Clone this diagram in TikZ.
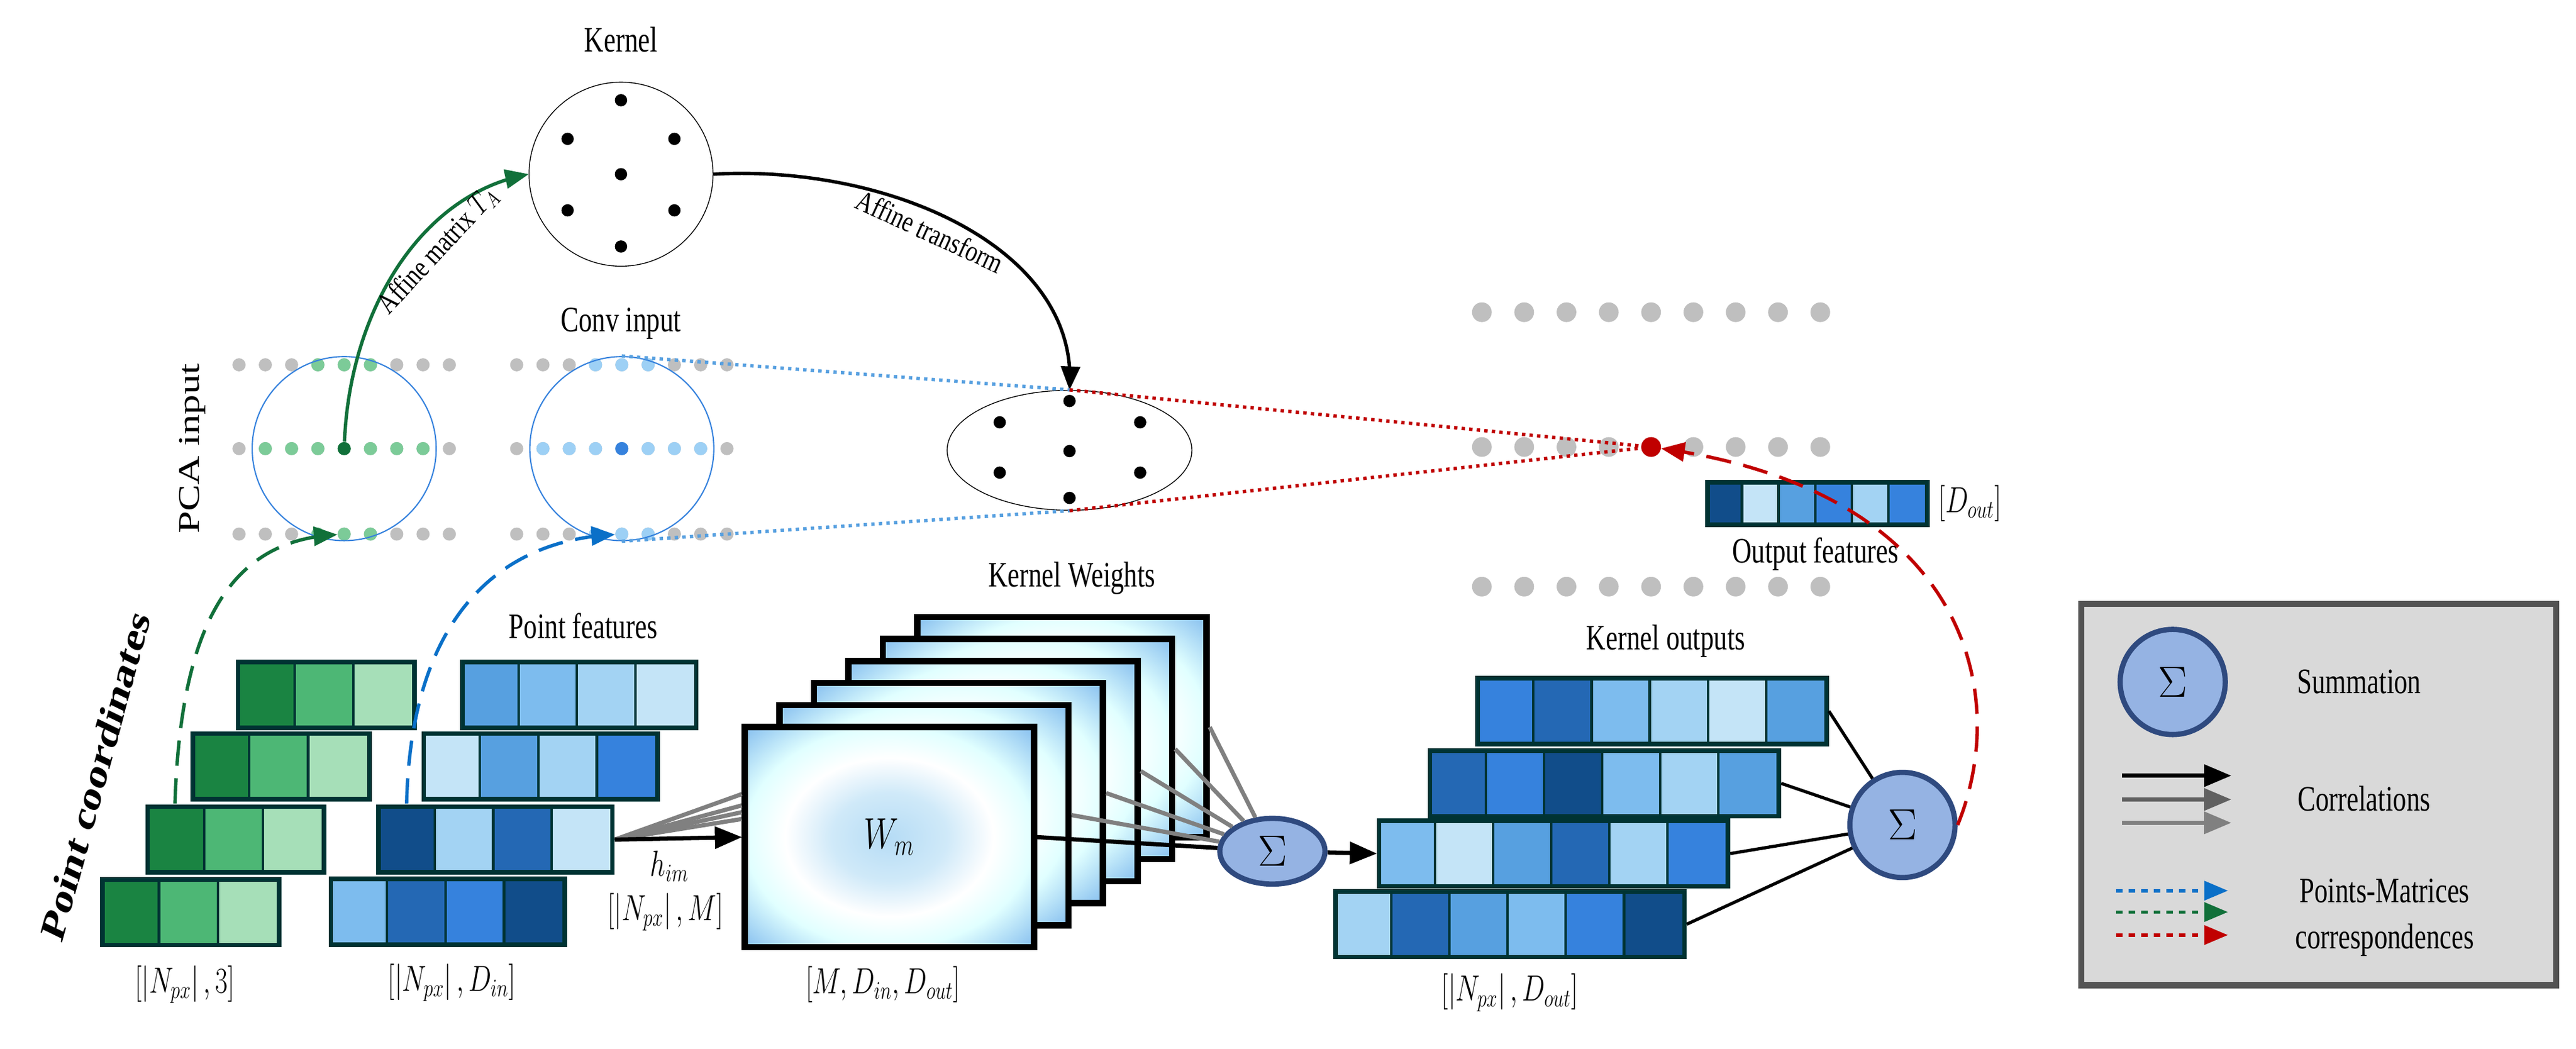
\documentclass[tikz,border=0pt]{standalone}
\usepackage{amsmath}
\usepackage{fontspec}
\setmainfont{Liberation Serif}
\usepackage{tikz}
\usetikzlibrary{shapes,arrows,backgrounds,positioning,calc}
\newlength\ux \setlength\ux{0.02743cm}
\definecolor{bardark}{HTML}{003333}
\definecolor{g1}{HTML}{1A8442}\definecolor{g2}{HTML}{4DB775}\definecolor{g3}{HTML}{A6DFB8}
\definecolor{b1}{HTML}{114D8A}\definecolor{b2}{HTML}{2468B4}\definecolor{b3}{HTML}{3682DD}
\definecolor{b4}{HTML}{57A0E0}\definecolor{b5}{HTML}{7DBCEE}\definecolor{b6}{HTML}{A3D3F3}
\definecolor{b7}{HTML}{C4E4F7}
\definecolor{pgreen}{HTML}{7CCB98}\definecolor{dgreen}{HTML}{11703A}
\definecolor{pblue}{HTML}{9DD0F5}\definecolor{dblue}{HTML}{0A70C8}
\definecolor{sumfill}{HTML}{95B3E3}\definecolor{sumline}{HTML}{2F4A7F}
\definecolor{dred}{HTML}{C00000}
\pgfdeclareradialshading{kwshade}{\pgfpoint{0bp}{0bp}}{color(0bp)=(b6!80!white);
  color(10bp)=(b7!80!white); color(18bp)=(white); color(25bp)=(cyan!12!white);
  color(34bp)=(b5!85!white); color(50bp)=(b5)}
\tikzset{
  lbl/.style = {font=\fontsize{17}{20}\selectfont, xscale=0.75},% plain labels
  barbox/.style = {draw=bardark, line width=2.2pt, inner sep=0pt},
  cellsep/.style = {bardark, line width=1.2pt},
  kwframe/.style = {draw=black, line width=3pt, minimum width=176\ux,
    minimum height=134\ux, inner sep=0pt, shading=kwshade},% kernel weight
  kdot/.style = {circle, fill=black, inner sep=0pt, minimum size=7.5\ux},
  gdot/.style = {circle, fill=gray!50, inner sep=0pt, minimum size=8\ux},
  bigdot/.style = {circle, fill=gray!50, inner sep=0pt, minimum size=12\ux},
  sumnode/.style = {circle, fill=sumfill, draw=sumline, line width=2.5pt,
    minimum size=64\ux, inner sep=0pt, font=\fontsize{22}{24}\selectfont},
  nbhd/.style = {circle, draw=b3, line width=0.6pt, minimum size=112\ux},
  corr/.style = {line width=2pt},
}
% a row of coloured cells, #1 height, #2 name, #3/#4 top left, #5 cell width, #6 colours
\newcommand{\cellbar}[6][40]{%
  \foreach \c [count=\i] in {#6} {
    \fill[\c] ({#3+(\i-1)*#5},#4) rectangle ++(#5,#1);
    \xdef\ncell{\i}}
  \foreach \i in {2,...,\ncell} \draw[cellsep] ({#3+(\i-1)*#5},#4) -- ++(0,#1);
  \node[barbox, anchor=north west, minimum width=\ncell*#5*\ux,
    minimum height=#1*\ux] (#2) at (#3,#4) {};
}
\begin{document}
\begin{tikzpicture}[x=\ux, y=-\ux, >=triangle 45]
\useasboundingbox (0,0) rectangle (1568,638);

% kernel and its transform
\node[lbl] at (378,24) {Kernel};
\node[circle, draw, minimum size=112\ux] (kern) at (378,106) {};
\foreach \p in {(378,61),(345.5,84.5),(410.5,84.5),(378,106),(345.5,128),(410.5,128),(378,150)}
  \node[kdot] at \p {};
\node[ellipse, draw, minimum width=149\ux, minimum height=73\ux] (tker) at (651,274) {};
\foreach \p in {(651,244),(608.5,257),(694,257),(651,274.5),(608.5,287.6),(694,287.6),(651,303)}
  \node[kdot] at \p {};

% point rows
\node[lbl, rotate=90, font=\fontsize{19}{22}\selectfont, xscale=1] at (117,273) {PCA input};
\node[lbl] at (378,197) {Conv input};
\foreach \r/\n in {222/t,273/m,325/b}
  \foreach \i in {0,...,8} {
    \node[gdot] (p\n\i) at (145.5+16*\i,\r) {};
    \node[gdot] (c\n\i) at (314.5+16*\i,\r) {};
  }
\foreach \i in {3,4,5} {
  \node[gdot, fill=pgreen] at (pt\i) {}; \node[gdot, fill=pgreen] at (pb\i) {};
  \node[gdot, fill=pblue] at (ct\i) {}; \node[gdot, fill=pblue] at (cb\i) {};
}
\foreach \i in {1,...,7} {
  \node[gdot, fill=pgreen] at (pm\i) {}; \node[gdot, fill=pblue] at (cm\i) {};
}
\node[gdot, fill=dgreen] (pcac) at (pm4) {};
\node[gdot, fill=b3] (convc) at (cm4) {};
\node[nbhd] (pca) at (pm4) {};
\node[nbhd] (conv) at (cm4) {};

% output rows
\foreach \r/\n in {190/t,272/m,357/b}
  \foreach \i in {0,...,8}
    \node[bigdot] (o\n\i) at (902+25.75*\i,\r) {};
\node[bigdot, fill=dred] (reddot) at (om4) {};

\draw[dgreen, line width=1.6pt, ->] (pcac) .. controls (213,190) and (255,120) .. (kern.west)
  node[pos=0.62, sloped, below, text=black, font=\fontsize{14}{16}\selectfont, xscale=0.8] {Affine matrix $T_A$};
\draw[line width=1.6pt, ->] (kern.east) .. controls (540,100) and (655,150) .. (tker.north)
  node[pos=0.45, sloped, below, font=\fontsize{14}{16}\selectfont, xscale=0.8] {Affine transform};
\draw[b4, dotted, line width=1.6pt] (conv.north) -- (tker.north);
\draw[b4, dotted, line width=1.6pt] (conv.south) -- (tker.south);
\draw[dred, dotted, line width=1.6pt] (tker.north) -- (reddot);
\draw[dred, dotted, line width=1.6pt] (tker.south) -- (reddot);

% output features
\cellbar[26]{outf}{1038}{292}{22.3}{b1,b7,b4,b3,b6,b3}
\node[lbl, right=2\ux of outf] {$\left[D_{out}\right]$};
\node[lbl] at (1105,337) {Output features};

% input bars
\node[lbl, rotate=70, font=\bfseries\fontsize{22}{24}\selectfont, xscale=1] at (58,472) {Point coordinates};
\node[lbl] at (355,381) {Point features};
\cellbar{gbar1}{143.5}{401.4}{35.8}{g1,g2,g3}
\cellbar{gbar2}{116}{445}{35.8}{g1,g2,g3}
\cellbar{gbar3}{88.5}{489.5}{35.8}{g1,g2,g3}
\cellbar{gbar4}{61}{533.7}{35.8}{g1,g2,g3}
\cellbar{bbar1}{280}{401.4}{35.6}{b4,b5,b6,b7}
\cellbar{bbar2}{256.5}{445}{35.6}{b7,b4,b6,b3}
\cellbar{bbar3}{229}{489.5}{35.6}{b1,b6,b2,b7}
\cellbar{bbar4}{200}{533.5}{35.6}{b5,b2,b3,b1}
\node[lbl] at (112.5,599) {$\left[\left|N_{px}\right|,3\right]$};
\node[lbl] at (275,598) {$\left[\left|N_{px}\right|,D_{in}\right]$};
\coordinate (gstart) at (106.5,489);
\coordinate (bstart) at (247.5,489);
\draw[dgreen, dashed, dash pattern=on 12pt off 6pt, line width=1.6pt, ->]
  (gstart) .. controls (110,380) and (140,330) .. (pb4);
\draw[dblue, dashed, dash pattern=on 12pt off 6pt, line width=1.6pt, ->]
  (bstart) .. controls (250,380) and (300,330) .. (cb4);

% kernel weights
\node[lbl] at (652.5,352) {Kernel Weights};
\foreach \k in {5,...,0}
  \node[kwframe, anchor=north west] (kw\k) at (451.5+21*\k,440.5-13.4*\k) {};
\node[lbl, font=\fontsize{22}{24}\selectfont] at (kw0) {$W_m$};
\node[lbl] at (537.5,599) {$\left[M,D_{in},D_{out}\right]$};
\foreach \f in {0.31,0.36,0.39,0.42}
  \draw[gray, corr] (bbar3.east) -- ($(kw0.north west)!\f!(kw0.south west)$);
\draw[corr, ->] (bbar3.east) -- (kw0.west);
\node[lbl] at (407.5,527) {$h_{im}$};
\node[lbl] at (405,555) {$\left[\left|N_{px}\right|,M\right]$};
\node[sumnode, ellipse, minimum width=64\ux, minimum height=40\ux] (sumk) at (774.5,518) {$\Sigma$};
\foreach \k in {1,...,5}
  \draw[gray, corr] (kw\k.east) -- (sumk);
\draw[corr] (kw0.east) -- (sumk);

% kernel outputs
\node[lbl] at (1014,390) {Kernel outputs};
\cellbar{kout1}{898}{411.3}{35.4}{b3,b2,b5,b6,b7,b4}
\cellbar{kout2}{869}{455.3}{35.4}{b2,b3,b1,b5,b6,b4}
\cellbar{kout3}{838}{498}{35.4}{b5,b7,b4,b2,b6,b3}
\cellbar{kout4}{811.5}{541}{35.4}{b6,b2,b4,b5,b3,b1}
\node[lbl] at (919,604) {$\left[\left|N_{px}\right|,D_{out}\right]$};
\draw[corr, ->] (sumk) -- (kout3.west);
\node[sumnode] (sumo) at (1158,502) {$\Sigma$};
\foreach \k in {1,...,4}
  \draw[line width=1.5pt] (kout\k.east) -- (sumo);
\draw[dred, dashed, dash pattern=on 12pt off 6pt, line width=1.6pt, ->]
  (sumo.east) .. controls (1225,420) and (1195,300) .. (reddot);

% legend
\node[draw=gray!65!black, fill=gray!30, line width=3pt, anchor=north west,
  minimum width=289\ux, minimum height=232\ux] (legend) at (1265,365.5) {};
\node[sumnode] (lsum) at (1322.5,415) {$\Sigma$};
\node[lbl] at (1436,415) {Summation};
\foreach \y/\c [count=\i] in {472/black,486.5/gray!75!black,500.7/gray} {
  \coordinate (la\i) at (1291.5,\y);
  \coordinate (lb\i) at (1358,\y);
  \draw[\c, corr, ->] (la\i) -- (lb\i);
}
\node[lbl] at (1439,486) {Correlations};
\foreach \y/\c [count=\i] in {542/dblue,555/dgreen,569/dred} {
  \coordinate (lc\i) at (1288,\y);
  \coordinate (ld\i) at (1356,\y);
  \draw[\c, dashed, line width=1.6pt, ->] (lc\i) -- (ld\i);
}
\node[lbl] at (1451.5,542) {Points-Matrices};
\node[lbl] at (1451.5,572) {correspondences};
\end{tikzpicture}
\end{document}
